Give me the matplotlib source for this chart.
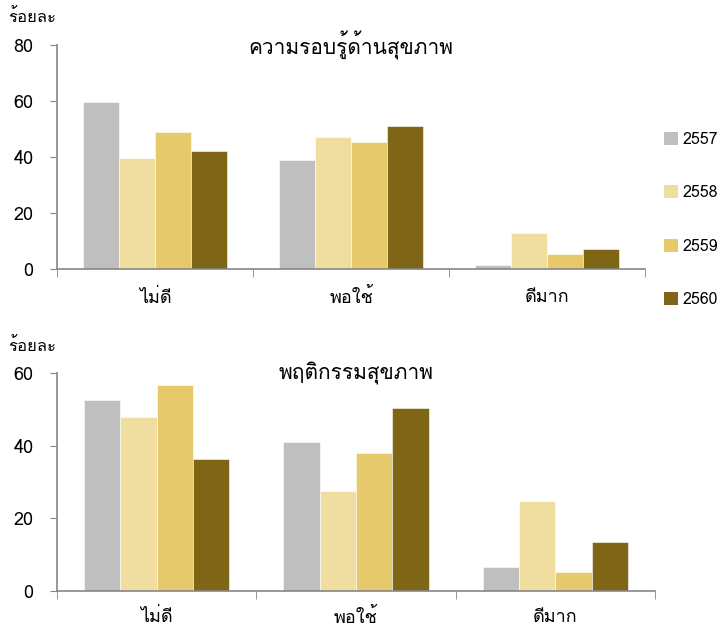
import numpy as np
import matplotlib
matplotlib.use("Agg")
import matplotlib.pyplot as plt
from matplotlib import font_manager
from matplotlib.ft2font import FT2Font
from matplotlib.patches import Patch

# ── Data ─────────────────────────────────────────────────────
categories = ["ไม่ดี", "พอใช้", "ดีมาก"]
years = ["2557", "2558", "2559", "2560"]

literacy = {
    "2557": [59.5, 39.0, 1.5],
    "2558": [39.5, 47.0, 13.0],
    "2559": [49.0, 45.5, 5.5],
    "2560": [42.0, 51.0, 7.0],
}
behaviour = {
    "2557": [52.7, 41.0, 6.6],
    "2558": [47.9, 27.5, 24.8],
    "2559": [56.7, 38.0, 5.2],
    "2560": [36.4, 50.4, 13.5],
}

colors = ["#BFBFBF", "#EFDE9F", "#E6C96A", "#7F6616"]

# ── Font with Thai glyphs ────────────────────────────────────
thai_fonts = []
for f in font_manager.fontManager.ttflist:
    try:
        if 0x0E01 in FT2Font(f.fname).get_charmap():
            thai_fonts.append(f.name)
    except Exception:
        pass
plt.rcParams["font.family"] = (thai_fonts[:1] if thai_fonts else []) + ["DejaVu Sans"]

spine_col = "#868686"


def bar_panel(ax, data, ymax, title, ytop, xpad):
    x = np.arange(len(categories))
    w = 0.73 / len(years)
    for i, yr in enumerate(years):
        ax.bar(x - 0.365 + w * (i + 0.5), data[yr], width=w, color=colors[i],
               edgecolor="white", linewidth=0.4)
    ax.set_xlim(-0.5, len(categories) - 0.5)
    ax.set_ylim(0, ymax)
    ax.set_yticks(np.arange(0, ymax + 1, 20))
    ax.set_xticks(x)
    ax.set_xticklabels(categories, fontsize=13)
    ax.set_xticks(np.arange(-0.5, len(categories)), minor=True)
    ax.tick_params(axis="x", which="major", length=0, pad=xpad)
    ax.tick_params(axis="x", which="minor", length=6, color=spine_col, direction="out")
    ax.tick_params(axis="y", length=5, color=spine_col, labelsize=13, pad=12)
    for s in ["top", "right"]:
        ax.spines[s].set_visible(False)
    for s in ["left", "bottom"]:
        ax.spines[s].set_color(spine_col)
        ax.spines[s].set_linewidth(1.2)
    ax.text(0.5, 1.0, title, transform=ax.transAxes, ha="center", va="center",
            fontsize=15)
    ax.figure.text(8 / 721, 1 - ytop / 630, "ร้อยละ", ha="left", va="center",
                   fontsize=12)


fig = plt.figure(figsize=(7.21, 6.30), dpi=100)
ax1 = fig.add_axes([57 / 721, 1 - 269 / 630, 588 / 721, 224 / 630])
ax2 = fig.add_axes([57 / 721, 1 - 591 / 630, 598 / 721, 218 / 630])

bar_panel(ax1, literacy, 80, "ความรอบรู้ด้านสุขภาพ", 18, 14)
bar_panel(ax2, behaviour, 60, "พฤติกรรมสุขภาพ", 347, 12)

handles = [Patch(facecolor=c, edgecolor="none") for c in colors]
fig.legend(handles, years, loc="center left", bbox_to_anchor=(661 / 721, 1 - 220 / 630),
           frameon=False, fontsize=11.5, labelspacing=2.35, handlelength=0.85,
           handleheight=0.85, handletextpad=0.3, borderpad=0.2, borderaxespad=0.0)

fig.savefig("out.png", dpi=100)
